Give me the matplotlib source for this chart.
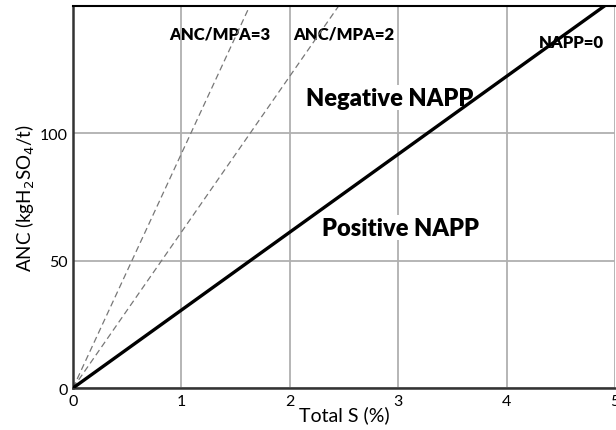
import matplotlib
matplotlib.use("Agg")
import matplotlib.pyplot as plt

# line end points (Total S %, ANC kg H2SO4/t)
napp0_s = [0, 5]
napp0_anc = [0, 153]
ratio2_s = [0, 2.45]
ratio2_anc = [0, 150]
ratio3_s = [0, 1.63]
ratio3_anc = [0, 150]

x_ticks = [0, 1, 2, 3, 4, 5]
y_ticks = [0, 50, 100]

plt.rcParams['font.family'] = ['Lato', 'DejaVu Sans']

fig = plt.figure(figsize=(6.16, 4.31), dpi=100)
ax = fig.add_axes([0.1185, 0.0974, 0.88, 0.8864])

ax.grid(True, color='#b0b0b0', linewidth=1.3, zorder=0)
ax.plot(ratio3_s, ratio3_anc, '--', color='#777777', linewidth=0.9, dashes=(5, 3), zorder=2)
ax.plot(ratio2_s, ratio2_anc, '--', color='#777777', linewidth=0.9, dashes=(5, 3), zorder=2)
ax.plot(napp0_s, napp0_anc, '-', color='black', linewidth=2.4, zorder=3)

ax.set_xlim(0, 5)
ax.set_ylim(0, 150)
ax.set_xticks(x_ticks)
ax.set_yticks(y_ticks)
ax.tick_params(length=0, labelsize=11.5, pad=4)

for side in ['left', 'bottom']:
    ax.spines[side].set_linewidth(1.8)
    ax.spines[side].set_color('#333333')
ax.spines['top'].set_linewidth(1.5)
ax.spines['right'].set_visible(False)

ax.set_xlabel('Total S (%)', fontsize=14, labelpad=-2)
ax.set_ylabel('ANC (kgH$_2$SO$_4$/t)', fontsize=13.5, labelpad=2)

box = dict(facecolor='white', edgecolor='none', pad=1)
ax.text(1.35, 139, 'ANC/MPA=3', fontsize=12, fontweight='heavy', ha='center', va='center', bbox=box, zorder=1)
ax.text(2.5, 139, 'ANC/MPA=2', fontsize=12, fontweight='heavy', ha='center', va='center', bbox=box, zorder=1)
ax.text(4.6, 136, 'NAPP=0', fontsize=12, fontweight='heavy', ha='center', va='center', zorder=4)
ax.text(2.92, 114, 'Negative NAPP', fontsize=17, fontweight='heavy', ha='center', va='center', bbox=box, zorder=2.5)
ax.text(3.02, 63, 'Positive NAPP', fontsize=17, fontweight='heavy', ha='center', va='center', bbox=box, zorder=4)

fig.savefig('out.png', dpi=100)
